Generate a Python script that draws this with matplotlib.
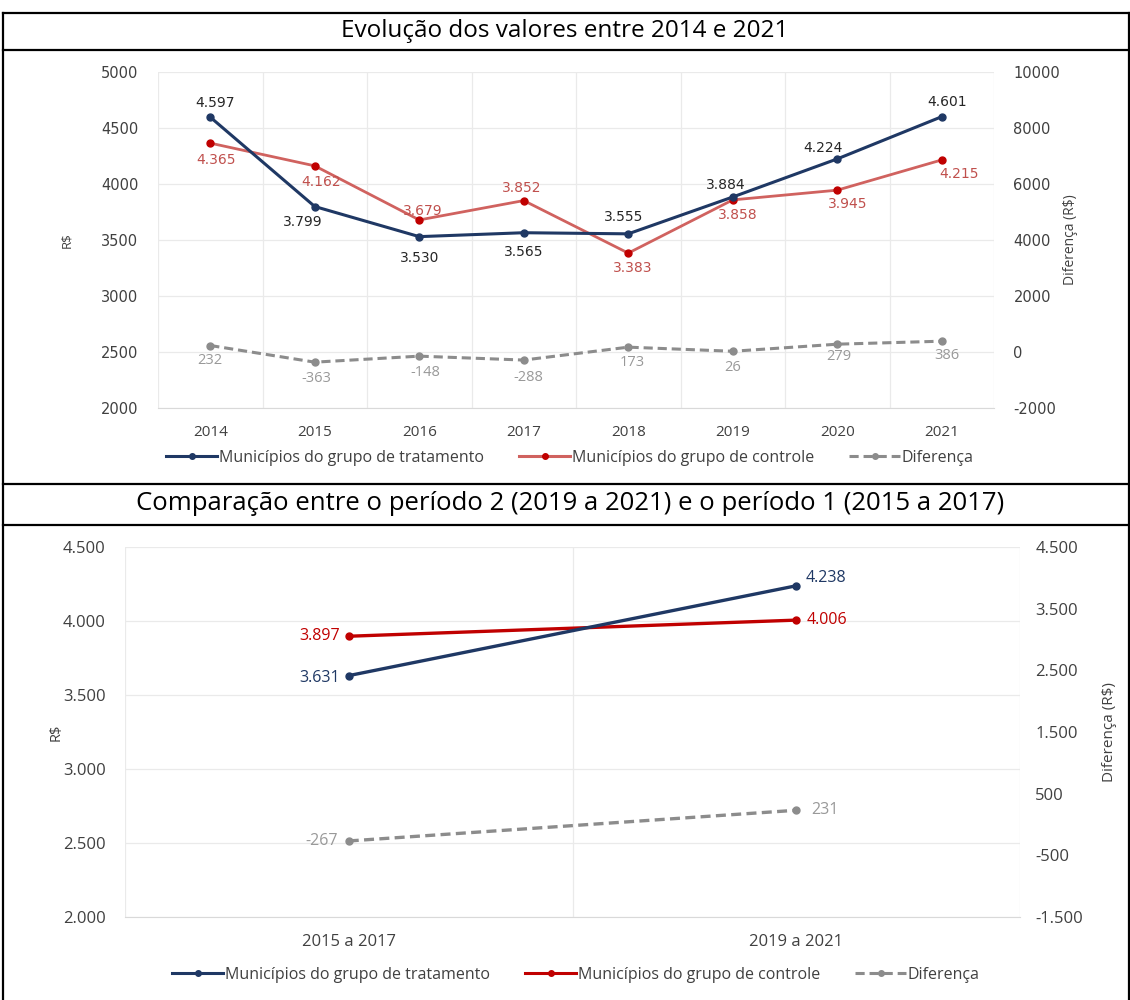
import matplotlib
matplotlib.use("Agg")
import matplotlib.pyplot as plt
from matplotlib.lines import Line2D
from matplotlib.ticker import FixedLocator

plt.rcParams["axes.unicode_minus"] = False

W, H = 1130, 1000

# ── Dados ─────────────────────────────────────────────────────────────────
anos = ["2014", "2015", "2016", "2017", "2018", "2019", "2020", "2021"]
tratamento = [4597, 3799, 3530, 3565, 3555, 3884, 4224, 4601]
controle = [4365, 4162, 3679, 3852, 3383, 3858, 3945, 4215]
diferenca = [232, -363, -148, -288, 173, 26, 279, 386]

periodos = ["2015 a 2017", "2019 a 2021"]
trat_periodo = [3631, 4238]
ctrl_periodo = [3897, 4006]
dif_periodo = [-267, 231]

serie_nomes = ["Municípios do grupo de tratamento",
               "Municípios do grupo de controle",
               "Diferença"]

# ── Estilo ────────────────────────────────────────────────────────────────
NAVY = "#1F3864"
RED = "#C00000"
CORAL = "#D0625F"
GRAY = "#8C8C8C"
GRID = "#EAEAEA"
TXT = "#404040"
SANS = ["Open Sans", "DejaVu Sans"]
NUM = ["DejaVu Sans"]


def br(v):
    return f"{v:,}".replace(",", ".")


def rect(l, t, r, b):
    return [l / W, 1 - b / H, (r - l) / W, (b - t) / H]


fig = plt.figure(figsize=(W / 100, H / 100), dpi=100)
fig.patch.set_facecolor("white")

# moldura da tabela
bg = fig.add_axes([0, 0, 1, 1], zorder=-5)
bg.set_xlim(0, W)
bg.set_ylim(H, 0)
bg.axis("off")
for y in (13, 50, 484, 525):
    bg.plot([3, W], [y, y], color="black", lw=1.6)
bg.plot([3, 3], [13, H], color="black", lw=1.6)
bg.plot([W - 1, W - 1], [13, H], color="black", lw=1.6)
bg.text(565, 31, "Evolução dos valores entre 2014 e 2021", ha="center", va="center",
        fontsize=17.5, family=SANS, color="black")
bg.text(570, 503, "Comparação entre o período 2 (2019 a 2021) e o período 1 (2015 a 2017)",
        ha="center", va="center", fontsize=18.5, family=SANS, color="black")


def base_axes(ax, n):
    ax.set_xlim(-0.5, n - 0.5)
    ax.xaxis.set_minor_locator(FixedLocator([i - 0.5 for i in range(n + 1)]))
    ax.grid(True, axis="y", color=GRID, lw=0.9)
    ax.grid(True, axis="x", which="minor", color=GRID, lw=0.9)
    ax.tick_params(axis="x", which="both", length=0)
    ax.tick_params(axis="y", length=0)
    for s in ("top", "left", "right"):
        ax.spines[s].set_visible(False)
    ax.spines["bottom"].set_color("#D9D9D9")
    ax.set_axisbelow(True)


def label(ax, x, y, txt, off, color, fs, fam, ha="center"):
    ax.annotate(txt, (x, y), xytext=(off[0], -off[1]), textcoords="offset pixels",
                ha=ha, va="center", fontsize=fs, color=color, family=fam)


# ── Gráfico 1 ─────────────────────────────────────────────────────────────
ax1 = fig.add_axes(rect(158, 72, 994, 408))
base_axes(ax1, len(anos))
xs = list(range(len(anos)))
ax1.plot(xs, controle, color=CORAL, lw=2.0, marker="o", ms=5,
         mfc=RED, mec=RED, zorder=3)
ax1.plot(xs, tratamento, color=NAVY, lw=2.2, marker="o", ms=5, zorder=4)
ax1.set_ylim(2000, 5000)
ax1.set_yticks(range(2000, 5001, 500))
ax1.set_xticks(xs)
ax1.set_xticklabels(anos, fontsize=11, family=SANS, color=TXT)
ax1.tick_params(axis="x", pad=12)
ax1.tick_params(axis="y", labelsize=10.5, labelcolor=TXT, pad=14)
ax1.set_ylabel("R$", fontsize=9.5, family=SANS, color=TXT, labelpad=20)

ax1b = ax1.twinx()
ax1b.plot(xs, diferenca, color=GRAY, lw=2.2, ls=(0, (3, 1.6)), marker="o", ms=5, zorder=3)
ax1b.set_ylim(-2000, 10000)
ax1b.set_yticks(range(-2000, 10001, 2000))
ax1b.tick_params(axis="y", length=0, labelsize=10.5, labelcolor=TXT, pad=14)
for s in ("top", "left", "right", "bottom"):
    ax1b.spines[s].set_visible(False)
ax1b.set_ylabel("Diferença (R$)", fontsize=10, family=SANS, color=TXT, labelpad=2)

off_t = [(5, -14), (-12, 15), (0, 21), (0, 19), (-5, -17), (-7, -12), (-14, -11), (5, -15)]
off_c = [(6, 17), (6, 16), (4, -9), (-2, -13), (4, 15), (5, 15), (10, 14), (17, 14)]
off_d = [(0, 15), (2, 16), (6, 16), (5, 17), (4, 15), (0, 16), (2, 12), (5, 14)]
for i in xs:
    label(ax1, i, tratamento[i], br(tratamento[i]), off_t[i], "#262626", 10, NUM)
    label(ax1, i, controle[i], br(controle[i]), off_c[i], "#C0504D", 10, NUM)
    label(ax1b, i, diferenca[i], br(diferenca[i]), off_d[i], "#999999", 10.5, SANS)

# ── Gráfico 2 ─────────────────────────────────────────────────────────────
ax2 = fig.add_axes(rect(125, 547, 1020, 917))
base_axes(ax2, len(periodos))
xp = list(range(len(periodos)))
ax2.plot(xp, ctrl_periodo, color=RED, lw=2.4, marker="o", ms=5, zorder=3)
ax2.plot(xp, trat_periodo, color=NAVY, lw=2.4, marker="o", ms=5, zorder=4)
ax2.set_ylim(2000, 4500)
ax2.set_yticks(range(2000, 4501, 500))
ax2.set_yticklabels([br(v) for v in range(2000, 4501, 500)], fontsize=12,
                    family=SANS, color=TXT)
ax2.set_xticks(xp)
ax2.set_xticklabels(periodos, fontsize=12, family=SANS, color=TXT)
ax2.tick_params(axis="x", pad=12)
ax2.tick_params(axis="y", pad=14)
ax2.set_ylabel("R$", fontsize=10.5, family=SANS, color=TXT, labelpad=-1)

ax2b = ax2.twinx()
ax2b.plot(xp, dif_periodo, color=GRAY, lw=2.4, ls=(0, (3, 1.6)), marker="o", ms=5, zorder=3)
ax2b.set_ylim(-1500, 4500)
ax2b.set_yticks(range(-1500, 4501, 1000))
ax2b.set_yticklabels([br(v) for v in range(-1500, 4501, 1000)], fontsize=12,
                     family=SANS, color=TXT)
ax2b.tick_params(axis="y", length=0, pad=11)
for s in ("top", "left", "right", "bottom"):
    ax2b.spines[s].set_visible(False)
ax2b.set_ylabel("Diferença (R$)", fontsize=11, family=SANS, color=TXT, labelpad=14)

label(ax2, 0, trat_periodo[0], br(trat_periodo[0]), (-9, 2), NAVY, 11.5, SANS, "right")
label(ax2, 0, ctrl_periodo[0], br(ctrl_periodo[0]), (-9, 0), RED, 11.5, SANS, "right")
label(ax2b, 0, dif_periodo[0], br(dif_periodo[0]), (-11, 0), "#999999", 11.5, SANS, "right")
label(ax2, 1, trat_periodo[1], br(trat_periodo[1]), (9, -8), NAVY, 11.5, SANS, "left")
label(ax2, 1, ctrl_periodo[1], br(ctrl_periodo[1]), (10, 0), RED, 11.5, SANS, "left")
label(ax2b, 1, dif_periodo[1], br(dif_periodo[1]), (15, 0), "#999999", 11.5, SANS, "left")

# ── Legendas ──────────────────────────────────────────────────────────────
def legenda(cx, cy, cor_ctrl_linha):
    hs = [Line2D([], [], color=NAVY, lw=2.2, marker="o", ms=4),
          Line2D([], [], color=cor_ctrl_linha, lw=2.2, marker="o", ms=4, mfc=RED, mec=RED),
          Line2D([], [], color=GRAY, lw=2.2, ls=(0, (3, 1.6)), marker="o", ms=4)]
    fig.legend(hs, serie_nomes, loc="center", bbox_to_anchor=(cx / W, 1 - cy / H),
               ncol=3, frameon=False, handlelength=3.2, handletextpad=0.1,
               columnspacing=2.2, prop={"family": SANS, "size": 11.5},
               labelcolor=TXT)


legenda(570, 458, CORAL)
legenda(576, 975, RED)

fig.savefig("out.png", dpi=100, facecolor="white")
